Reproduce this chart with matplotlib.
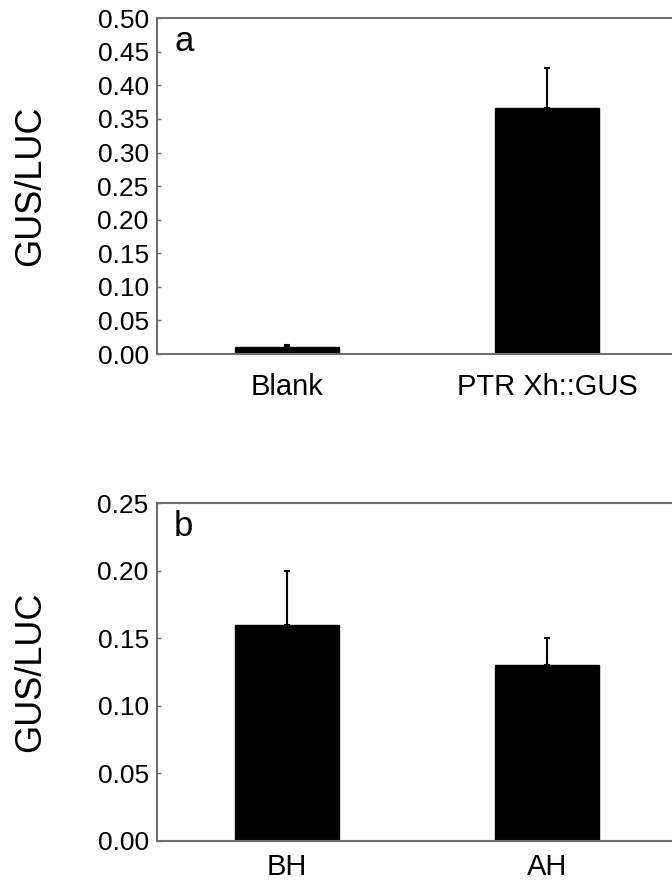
import matplotlib
matplotlib.use('Agg')
import matplotlib.pyplot as plt
import numpy as np

plt.rcParams['font.family'] = ['Liberation Sans', 'DejaVu Sans']

# panel a
labels_a = ['Blank', 'PTR Xh::GUS']
values_a = [0.010, 0.366]
errors_a = [0.003, 0.060]

# panel b
labels_b = ['BH', 'AH']
values_b = [0.160, 0.130]
errors_b = [0.040, 0.020]

spine_col = '#6e6e6e'

fig = plt.figure(figsize=(6.72, 8.82), dpi=100)
ax_a = fig.add_axes([0.2336, 0.5986, 0.7746, 0.3807])
ax_b = fig.add_axes([0.2336, 0.0465, 0.7746, 0.3832])


def draw(ax, labels, values, errors, ymax, step, letter, xpad):
    x = np.arange(len(labels))
    ax.bar(x, values, width=0.4, color='black', edgecolor='black', zorder=2)
    ax.errorbar(x, values, yerr=[np.zeros(len(errors)), errors], fmt='none',
                ecolor='black', elinewidth=1.5, capsize=2, capthick=1.5, zorder=3)
    ax.set_xlim(-0.5, 1.5)
    ax.set_ylim(0, ymax)
    ax.set_yticks(np.arange(0, ymax + step / 2, step))
    ax.yaxis.set_major_formatter(matplotlib.ticker.FormatStrFormatter('%.2f'))
    ax.set_xticks(x)
    ax.set_xticklabels(labels)
    ax.tick_params(axis='x', length=0, labelsize=21, pad=xpad)
    ax.tick_params(axis='y', direction='in', length=3, width=1, color=spine_col,
                   labelsize=19, pad=6)
    for s in ['left', 'top', 'bottom']:
        ax.spines[s].set_color(spine_col)
        ax.spines[s].set_linewidth(1.5)
    ax.spines['right'].set_visible(False)
    ax.text(0.033, 0.93, letter, transform=ax.transAxes, fontsize=25,
            ha='left', va='center')


draw(ax_a, labels_a, values_a, errors_a, 0.5, 0.05, 'a', 14)
draw(ax_b, labels_b, values_b, errors_b, 0.25, 0.05, 'b', 9)

fig.text(31 / 672, 1 - 186 / 882, 'GUS/LUC', rotation=90, fontsize=26,
         ha='center', va='center')
fig.text(31 / 672, 1 - 672 / 882, 'GUS/LUC', rotation=90, fontsize=26,
         ha='center', va='center')

fig.savefig('out.png', dpi=100)
